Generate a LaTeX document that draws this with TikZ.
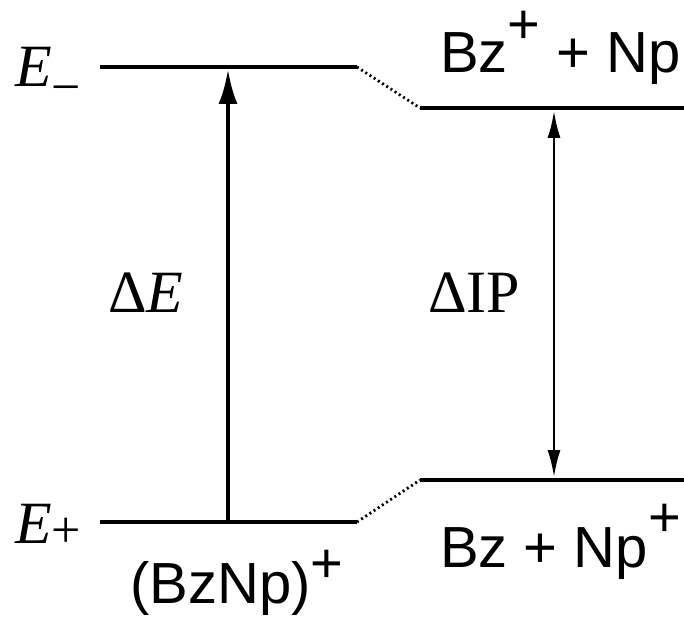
\documentclass[tikz,border=0pt]{standalone}
\usepackage{fontspec}
\setmainfont{Liberation Serif}
\setsansfont{Liberation Sans}
\usetikzlibrary{arrows.meta}

\newcommand{\sansbig}{\sffamily\fontsize{58}{70}\selectfont}
\newcommand{\pluscharge}[1][29pt]{\raisebox{#1}{\fontsize{56}{56}\selectfont+}}
\newcommand{\levelsub}[2]{\raisebox{#1}{\fontsize{52}{52}\selectfont#2}}

\begin{document}
\begin{tikzpicture}[x=1pt,y=1pt,line cap=butt,
  lvl/.style={line width=4.8pt},
  link/.style={line width=2.8pt,dash pattern=on 2pt off 3pt},
  gaparrow/.style={line width=4.5pt,-{Latex[length=35pt,width=19pt]}},
  iparrow/.style={line width=2.2pt,{Latex[length=27pt,width=13pt]}-{Latex[length=27pt,width=13pt]}},
  serif/.style={font=\fontsize{60}{72}\selectfont,inner sep=0pt,anchor=base west},
  sans/.style={font=\sansbig,inner sep=0pt,anchor=base west}]
  \useasboundingbox (0,0) rectangle (684,621);
  % complex levels (left)
  \coordinate (cu1) at (100,554);
  \coordinate (cu2) at (357,554);
  \coordinate (cl1) at (100,99);
  \coordinate (cl2) at (357,99);
  % pair levels (right)
  \coordinate (pu1) at (420,513);
  \coordinate (pu2) at (684,513);
  \coordinate (pl1) at (420,141);
  \coordinate (pl2) at (684,141);
  \draw[lvl] (cu1)--(cu2);
  \draw[lvl] (cl1)--(cl2);
  \draw[lvl] (pu1)--(pu2);
  \draw[lvl] (pl1)--(pl2);
  \draw[link] (cu2)--(pu1);
  \draw[link] (cl2)--(pl1);
  % transitions
  \coordinate (gapbot) at (228,99);
  \coordinate (gaptop) at (228,554);
  \coordinate (ipbot) at (554,141);
  \coordinate (iptop) at (554,513);
  \draw[gaparrow,shorten >=2pt] (gapbot)--(gaptop);
  \draw[iparrow,shorten >=3pt,shorten <=3pt] (ipbot)--(iptop);
  % labels
  \node[serif] (Eminus) at (15,534) {\textit{E}\levelsub{-18pt}{−}};
  \node[serif] (Eplus) at (15,78) {\textit{E}\levelsub{-4pt}{+}};
  \node[serif] (dE) at (108,308) {Δ\textit{E}};
  \node[serif] (dIP) at (428,308) {ΔIP};
  \node[sans] (upper) at (440,548) {Bz\pluscharge{} + Np};
  \node[sans] (lower) at (440,54) {Bz + Np\pluscharge[31pt]};
  \node[sans] (cplx) at (130,18) {(BzNp)\pluscharge[21pt]};
\end{tikzpicture}
\end{document}
